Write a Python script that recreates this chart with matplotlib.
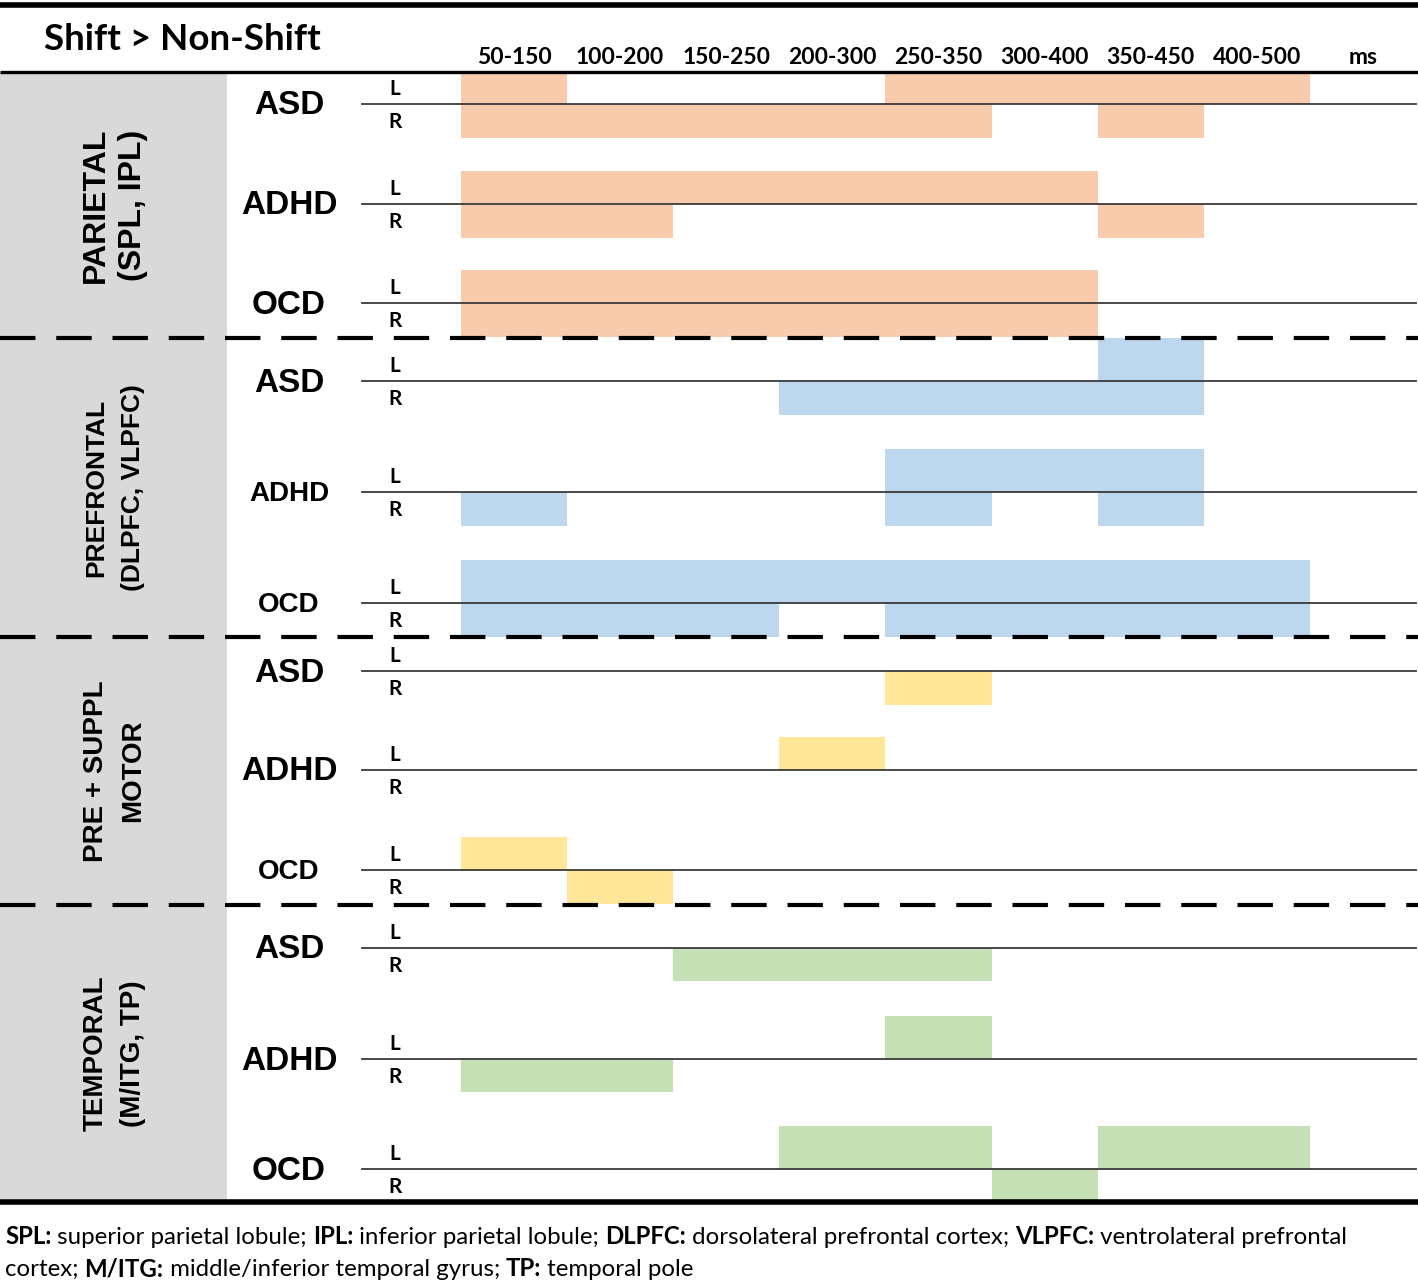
import matplotlib
matplotlib.use("Agg")
import matplotlib.pyplot as plt
from matplotlib import font_manager as fm

# ---------------- data ----------------
columns = ["50-150", "100-200", "150-250", "200-300", "250-350",
           "300-400", "350-450", "400-500"]
unit_label = "ms"
groups = ["ASD", "ADHD", "OCD"]
regions = ["PARIETAL\n(SPL, IPL)", "PREFRONTAL\n(DLPFC, VLPFC)",
           "PRE + SUPPL\nMOTOR", "TEMPORAL\n(M/ITG, TP)"]
region_colors = ["#F8CBAD", "#BDD7EE", "#FFE699", "#C5E0B4"]

# significant time-window indices (column index) per hemisphere
parietal_L = [[0, 4, 5, 6, 7], [0, 1, 2, 3, 4, 5], [0, 1, 2, 3, 4, 5]]
parietal_R = [[0, 1, 2, 3, 4, 6], [0, 1, 6], [0, 1, 2, 3, 4, 5]]
prefrontal_L = [[6], [4, 5, 6], [0, 1, 2, 3, 4, 5, 6, 7]]
prefrontal_R = [[3, 4, 5, 6], [0, 4, 6], [0, 1, 2, 4, 5, 6, 7]]
motor_L = [[], [3], [0]]
motor_R = [[4], [], [1]]
temporal_L = [[], [4], [3, 4, 6, 7]]
temporal_R = [[2, 3, 4], [0, 1], [5]]
data_L = [parietal_L, prefrontal_L, motor_L, temporal_L]
data_R = [parietal_R, prefrontal_R, motor_R, temporal_R]

title = "Shift > Non-Shift"
footnote = [
    [("SPL:", True), (" superior parietal lobule; ", False), ("IPL:", True),
     (" inferior parietal lobule; ", False), ("DLPFC:", True),
     (" dorsolateral prefrontal cortex; ", False), ("VLPFC:", True),
     (" ventrolateral prefrontal", False)],
    [("cortex; ", False), ("M/ITG:", True),
     (" middle/inferior temporal gyrus; ", False), ("TP:", True),
     (" temporal pole", False)],
]

# ---------------- layout (pixels) ----------------
W, H = 1418, 1284
X0, CW = 461, 106.1           # first column left edge, column width
mid_y = [[104, 204, 303], [381, 492, 603], [671, 770, 870], [948, 1059, 1169]]
L_h = [33, 43, 33, 43]
R_h = [34, 34, 34, 33]
sec_bounds = [72, 338, 637, 905, 1202]
region_fs = [[23, 23], [19, 19], [20, 20], [20, 20]]
group_fs = [[24, 24, 24], [24, 20, 20], [24, 24, 20], [24, 24, 24]]


def avail(names):
    have = {f.name for f in fm.fontManager.ttflist}
    return [n for n in names if n in have] + ["DejaVu Sans"]


ARIAL = avail(["Liberation Sans", "Arial"])
CALI = avail(["Lato", "Open Sans"])
NARROW = avail(["Liberation Sans Narrow", "Lato"])

fig = plt.figure(figsize=(W / 100, H / 100), dpi=100)
ax = fig.add_axes([0, 0, 1, 1])
ax.set_xlim(-X0 / CW, (W - X0) / CW)   # x in column units
ax.set_ylim(H, 0)                      # y in pixel rows
ax.axis("off")


def cx(px):
    return (px - X0) / CW


# gray region panel
ax.axvspan(cx(0), cx(227), ymin=1 - 1200 / H, ymax=1 - 72 / H,
           color="#D9D9D9", lw=0, zorder=0)

# bars
for s in range(4):
    for g in range(3):
        m = mid_y[s][g]
        for c in data_L[s][g]:
            ax.bar(c, L_h[s], width=1.0, bottom=m - L_h[s], align="edge",
                   color=region_colors[s], lw=0, zorder=1)
        for c in data_R[s][g]:
            ax.bar(c, R_h[s], width=1.0, bottom=m, align="edge",
                   color=region_colors[s], lw=0, zorder=1)
        ax.plot([cx(362), cx(1416)], [m, m], color="#3a3a3a", lw=1.3, zorder=3)
        ax.text(cx(289), m + 2, groups[g], ha="center", va="center",
                fontsize=group_fs[s][g], fontweight="bold", family=ARIAL)
        ax.text(cx(395), m - 15, "L", ha="center", va="center",
                fontsize=15, fontweight="bold", family=CALI)
        ax.text(cx(395), m + 18, "R", ha="center", va="center",
                fontsize=15, fontweight="bold", family=CALI)
    # region label
    yc = (sec_bounds[s] + sec_bounds[s + 1]) / 2
    l1, l2 = regions[s].split("\n")
    ax.text(cx(96), yc, l1, rotation=90, ha="center", va="center",
            fontsize=region_fs[s][0], fontweight="bold", family=ARIAL)
    ax.text(cx(133), yc, l2, rotation=90, ha="center", va="center",
            fontsize=region_fs[s][1], fontweight="bold", family=ARIAL)

# horizontal rules
ax.plot([cx(0), cx(W)], [5, 5], color="black", lw=4, zorder=4, solid_capstyle="butt")
ax.plot([cx(0), cx(W)], [72, 72], color="black", lw=2.4, zorder=4, solid_capstyle="butt")
for yb in sec_bounds[1:-1]:
    ax.plot([cx(0), cx(W)], [yb, yb], color="black", lw=3, zorder=4,
            dashes=(8.5, 5), solid_capstyle="butt")
ax.plot([cx(0), cx(W)], [1202, 1202], color="black", lw=4, zorder=4, solid_capstyle="butt")

# header
ax.text(cx(44), 40, title, ha="left", va="center", fontsize=26.5,
        fontweight="bold", family=CALI)
for i, lab in enumerate(columns):
    ax.text(i + 0.5, 57, lab, ha="center", va="center", fontsize=16.5,
            fontweight="bold", family=NARROW)
ax.text(len(columns) + 0.5, 58, unit_label, ha="center", va="center",
        fontsize=16.5, fontweight="bold", family=NARROW)

# footnote with mixed bold/regular segments
fig.canvas.draw()
renderer = fig.canvas.get_renderer()
for li, line in enumerate(footnote):
    xpix = 5
    ypix = 1237 + li * 32
    for txt, bold in line:
        t = fig.text(xpix / W, 1 - ypix / H, txt, ha="left", va="center",
                     fontsize=17.3, fontweight="bold" if bold else "normal",
                     family=CALI)
        bb = t.get_window_extent(renderer=renderer)
        xpix = bb.x1

fig.savefig("out.png", dpi=100)
